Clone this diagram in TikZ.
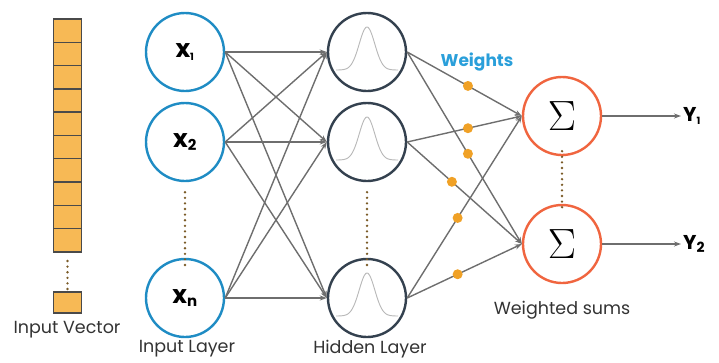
\documentclass[tikz,border=0pt]{standalone}
\usepackage{fontspec}
\usepackage{graphicx}
\setmainfont{Poppins}
\usetikzlibrary{arrows.meta}
\definecolor{inblue}{HTML}{1F8CC4}
\definecolor{hidslate}{HTML}{34414F}
\definecolor{sumred}{HTML}{F0653F}
\definecolor{cellfill}{HTML}{F7B955}
\definecolor{cellline}{HTML}{4A4A4A}
\definecolor{wdotc}{HTML}{F0A126}
\definecolor{linegrey}{HTML}{6E6E6E}
\definecolor{dotbrown}{HTML}{7A5A26}
\definecolor{bellgrey}{HTML}{B8B8B8}
\definecolor{txtgrey}{HTML}{333333}
\definecolor{wblue}{HTML}{2A9FDA}
\tikzset{
  neuron/.style={circle, minimum size=78pt, inner sep=0pt, line width=2.4pt, fill=white},
  innode/.style={neuron, draw=inblue},
  hidnode/.style={neuron, draw=hidslate},
  sumnode/.style={neuron, draw=sumred},
  cell/.style={draw=cellline, fill=cellfill, line width=1.4pt, minimum width=28pt, minimum height=23.3pt, inner sep=0pt},
  conn/.style={draw=linegrey, line width=1.4pt, -{Stealth[length=7pt,width=5pt]}},
  wdot/.style={circle, fill=wdotc, minimum size=10pt, inner sep=0pt},
  dotline/.style={draw=dotbrown, line width=2.6pt, line cap=round, dash pattern=on 0pt off 5.6pt},
  lbl/.style={text=txtgrey, font=\fontsize{17.5}{20}\selectfont},
  xlbl/.style={font=\fontsize{25}{26}\selectfont\bfseries, text=black},
  ylbl/.style={font=\fontsize{20}{22}\selectfont\bfseries, text=black, anchor=west, inner sep=2pt},
  sigma/.style={font=\fontsize{24}{24}\selectfont},
}
\newcommand{\bigsig}{\scalebox{1.7}{$\Sigma$}}
\begin{document}
\begin{tikzpicture}[x=1pt, y=-1pt]
\useasboundingbox (0,0) rectangle (719,362);

% input vector column
\foreach \k in {0,...,9} {
  \node[cell] (c\k) at (67.5, {30.6 + 23.3*\k}) {};
}
\node[cell, minimum height=21pt] (clast) at (67.5, 302.5) {};
\draw[dotline] (67.5,261) -- (67.5,292);
\node[lbl] (ivec) at (67, 330) {Input Vector};

% input layer
\node[innode] (i1) at (185, 52) {};
\node[innode] (i2) at (185, 142) {};
\node[innode] (i3) at (185, 298) {};
\node[xlbl] at (i1) {x\textsubscript{\fontsize{10}{10}\selectfont 1}};
\node[xlbl] at (i2) {x\textsubscript{\fontsize{15}{15}\selectfont 2}};
\node[xlbl] at (i3) {x\textsubscript{\fontsize{15}{15}\selectfont n}};
\draw[dotline] (i2.south) ++(0,10) -- ([yshift=-10pt]i3.north);
\node[lbl] (ilay) at (187, 349) {Input Layer};

% hidden layer
\foreach \n/\y in {h1/52, h2/142, h3/298} {
  \node[hidnode] (\n) at (367, \y) {};
  \draw[bellgrey, line width=0.9pt, shift={(367,\y)}]
    plot[domain=-31:31, samples=61] (\x, {18 - 43*exp(-(\x/11)^2)});
}
\draw[dotline] (h2.south) ++(0,10) -- ([yshift=-10pt]h3.north);
\node[lbl] (hlay) at (370, 349) {Hidden Layer};

% summation layer
\node[sumnode, sigma] (s1) at (562, 116) {\bigsig};
\node[sumnode, sigma] (s2) at (562, 244) {\bigsig};
\draw[dotline] ([yshift=5pt]s1.south) -- ([yshift=-4pt]s2.north);
\node[lbl] (wsum) at (562, 310) {Weighted sums};
\node[font=\fontsize{17}{20}\selectfont\bfseries, text=wblue] (wts) at (477, 62) {Weights};

% outputs
\node[ylbl] (y1) at (681, 116) {Y\textsubscript{\fontsize{10}{10}\selectfont 1}};
\node[ylbl] (y2) at (681, 244) {Y\textsubscript{\fontsize{14}{14}\selectfont 2}};

% input -> hidden connections
\foreach \a in {i1,i2,i3} {
  \foreach \b in {h1,h2,h3} {
    \draw[conn] (\a.east) -- (\b.west);
  }
}

% hidden -> summation connections with weights
\draw[conn] (h1.east) -- node[pos=0.53, wdot] {} (s1.west);
\draw[conn] (h2.east) -- node[pos=0.53, wdot] {} (s1.west);
\draw[conn] (h3.east) -- node[pos=0.44, wdot] {} (s1.west);
\draw[conn] (h1.east) -- node[pos=0.53, wdot] {} (s2.west);
\draw[conn] (h2.east) -- node[pos=0.39, wdot] {} (s2.west);
\draw[conn] (h3.east) -- node[pos=0.44, wdot] {} (s2.west);

% output arrows
\draw[conn] (s1.east) -- (y1.west);
\draw[conn] (s2.east) -- (y2.west);
\end{tikzpicture}
\end{document}
